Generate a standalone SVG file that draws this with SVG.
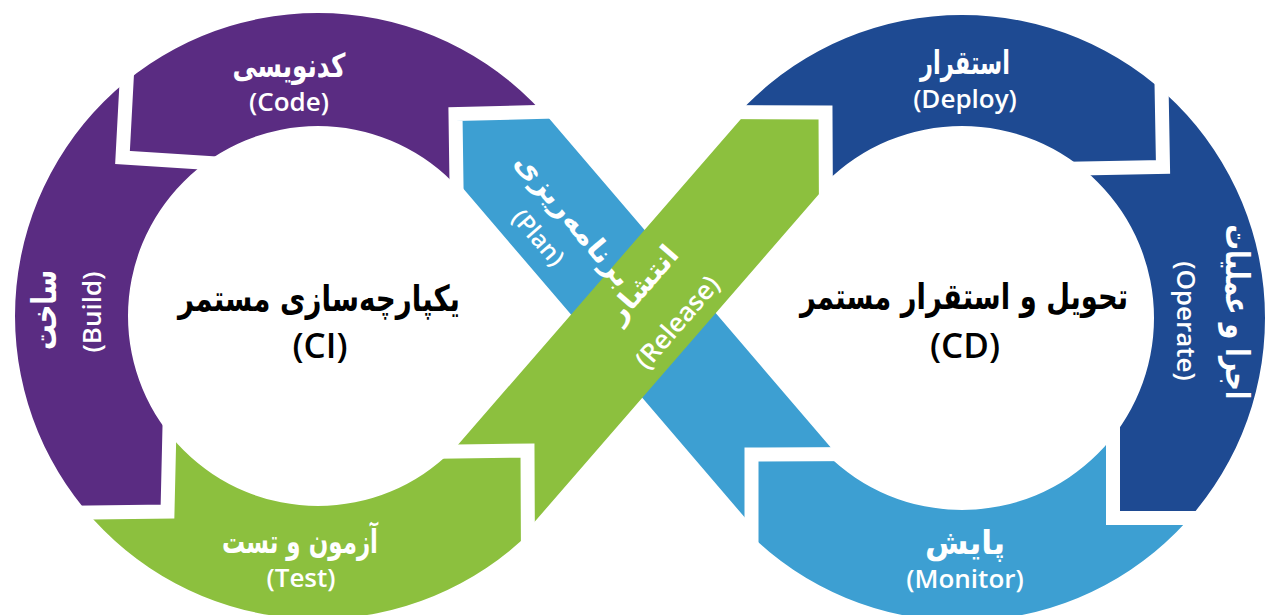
<svg xmlns="http://www.w3.org/2000/svg" width="1266" height="615" viewBox="0 0 1266 615">
<defs>
<style>
.purple{fill:#5a2c82}
.dblue{fill:#1e4a92}
.lblue{fill:#3d9fd2}
.green{fill:#8cc03e}
.gap{fill:none;stroke:#ffffff;stroke-width:14;stroke-linejoin:miter;stroke-miterlimit:10}
.fa{font-family:"DejaVu Sans",sans-serif;font-weight:bold;fill:#ffffff;text-anchor:middle}
.en{font-family:"Open Sans","Liberation Sans",sans-serif;font-weight:600;fill:#ffffff;text-anchor:middle}
.ttl{fill:#000000}
</style>
<clipPath id="ringL"><path clip-rule="evenodd" d="M15,316 a303,303 0 1,0 606,0 a303,303 0 1,0 -606,0 Z M128,316 a190,190 0 1,0 380,0 a190,190 0 1,0 -380,0 Z"/></clipPath>
<clipPath id="ringR"><path clip-rule="evenodd" d="M659,318 a303,303 0 1,0 606,0 a303,303 0 1,0 -606,0 Z M770,318 a192,192 0 1,0 384,0 a192,192 0 1,0 -384,0 Z"/></clipPath>
</defs>
<rect x="0" y="0" width="1266" height="615" fill="#ffffff"/>

<g id="node-plan">
<path class="lblue" d="M455.5,114 L545.3,114 L836.8,454.5 L751.5,454.5 L751.5,525.3 L455.5,179.6 Z"/>
</g>
<g id="node-code" clip-path="url(#ringL)">
<path class="purple" d="M457,220 L455.5,114 L575,111 L575,-20 L128,-20 L122.5,157.5 L240,165 L318,316 Z"/>
</g>
<g id="node-build" clip-path="url(#ringL)">
<path class="purple" d="M240,165 L122.5,157.5 L128,-20 L-20,-20 L-20,513 L167.5,511.5 L170,405 L318,316 Z"/>
</g>
<g id="node-test" clip-path="url(#ringL)">
<path class="green" d="M170,405 L167.5,511.5 L-20,513 L-20,640 L528,640 L527.5,450.5 L420,452 L318,316 Z"/>
</g>
<g id="node-deploy" clip-path="url(#ringR)">
<path class="dblue" d="M826,220 L825.5,112.5 L715,112 L715,-20 L1160,-20 L1163,167 L1055,169 L962,318 Z"/>
</g>
<g id="node-operate" clip-path="url(#ringR)">
<path class="dblue" d="M1055,169 L1163,167 L1160,-20 L1290,-20 L1290,518 L1113,518 L1113,410 L962,318 Z"/>
</g>
<g id="node-monitor" clip-path="url(#ringR)">
<path class="lblue" d="M1113,410 L1113,518 L1290,518 L1290,640 L751.5,640 L751.5,454.5 L865,454 L962,318 Z"/>
</g>
<g id="node-release">
<path class="green" d="M747,112 L825.5,112.5 L826,186 L527.5,530 L527.5,450.5 L453,450.5 Z"/>
</g>

<g id="connectors">
<polyline class="gap" points="457,220 455.5,114 575,111"/>
<polyline class="gap" points="128,55 122.5,157.5 240,165"/>
<polyline class="gap" points="170,405 167.5,511.5 50,513"/>
<polyline class="gap" points="420,452 527.5,450.5 528,565"/>
<polyline class="gap" points="715,112 825.5,112.5 826,220"/>
<polyline class="gap" points="1161,55 1163,167 1055,169"/>
<polyline class="gap" points="1113,410 1113,518 1230,518"/>
<polyline class="gap" points="751.5,565 751.5,454.5 865,454"/>
</g>

<g id="labels">
<text class="fa" x="289" y="77" font-size="33" textLength="113" lengthAdjust="spacingAndGlyphs">کدنویسی</text>
<text class="en" x="289" y="111" font-size="26">(Code)</text>
<text class="fa" transform="translate(56,310) rotate(-90)" x="0" y="0" font-size="34" textLength="80" lengthAdjust="spacingAndGlyphs">ساخت</text>
<text class="en" transform="translate(101,312) rotate(-90)" x="0" y="0" font-size="26">(Build)</text>
<text class="fa" x="300" y="553" font-size="33" textLength="156" lengthAdjust="spacingAndGlyphs">آزمون و تست</text>
<text class="en" x="301" y="587" font-size="26">(Test)</text>
<text class="fa" transform="translate(566,226) rotate(50)" x="0" y="0" font-size="28" textLength="165" lengthAdjust="spacingAndGlyphs">برنامه‌ریزی</text>
<text class="en" transform="translate(532,243) rotate(49)" x="0" y="0" font-size="24">(Plan)</text>
<text class="fa" transform="translate(650,290) rotate(-49)" x="0" y="0" font-size="28" textLength="92" lengthAdjust="spacingAndGlyphs">انتشار</text>
<text class="en" transform="translate(684,328) rotate(-49)" x="0" y="0" font-size="26">(Release)</text>
<text class="fa" x="965" y="74" font-size="33" textLength="90" lengthAdjust="spacingAndGlyphs">استقرار</text>
<text class="en" x="965" y="108" font-size="26">(Deploy)</text>
<text class="fa" transform="translate(1226,312) rotate(90)" x="0" y="0" font-size="33" textLength="175" lengthAdjust="spacingAndGlyphs">اجرا و عملیات</text>
<text class="en" transform="translate(1177,321) rotate(90)" x="0" y="0" font-size="26">(Operate)</text>
<text class="fa" x="965" y="554" font-size="33" textLength="80" lengthAdjust="spacingAndGlyphs">پایش</text>
<text class="en" x="965" y="588" font-size="26">(Monitor)</text>
<text class="fa ttl" x="319" y="311" font-size="36" textLength="282" lengthAdjust="spacingAndGlyphs">یکپارچه‌سازی مستمر</text>
<text class="en ttl" x="320" y="358" font-size="35">(CI)</text>
<text class="fa ttl" x="964" y="309" font-size="36" textLength="328" lengthAdjust="spacingAndGlyphs">تحویل و استقرار مستمر</text>
<text class="en ttl" x="965" y="358" font-size="35">(CD)</text>
</g>
</svg>
